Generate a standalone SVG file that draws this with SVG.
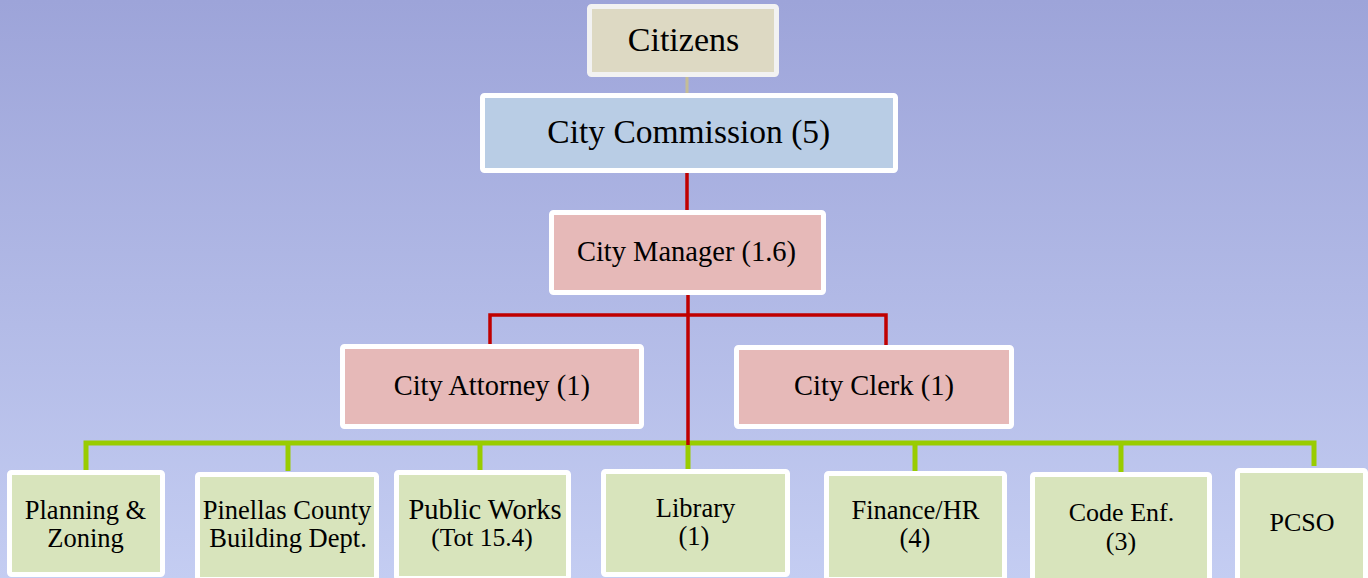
<svg xmlns="http://www.w3.org/2000/svg" width="1368" height="578" viewBox="0 0 1368 578">
<defs>
<linearGradient id="bg" x1="0" y1="0" x2="0" y2="1">
<stop offset="0" stop-color="#9DA4D9"/>
<stop offset="1" stop-color="#C4CDF2"/>
</linearGradient>
</defs>
<style>
.box{stroke:#FFFFFF;stroke-width:5}
.tan{fill:#DDD9C3;stroke:#F2F2F2}
.blue{fill:#B9CDE5}
.red{fill:#E6B9B8}
.grn{fill:#D8E4BC}
text{font-family:"Liberation Serif","Times New Roman",serif;fill:#000;text-anchor:middle}
.rl{stroke:#C00000;stroke-width:3.5;fill:none}
.gl{stroke:#99CC00;stroke-width:5;fill:none}
.tl{stroke:#C4BD97;stroke-width:3;fill:none}
</style>
<rect width="1368" height="578" fill="url(#bg)"/>
<g id="connectors">
<line class="tl" x1="687" y1="77" x2="687" y2="94"/>
<line class="rl" x1="687" y1="173" x2="687" y2="210"/>
<path class="gl" d="M86,470 V443 H1314 V466 M288,443 V471 M480,443 V470 M688,443 V470 M915,443 V472 M1121,443 V472"/>
<path class="rl" d="M688,295 V445 M490,346 V315 H886 V347"/>
</g>
<g id="citizens"><rect class="box tan" x="589.5" y="6.5" width="187" height="68" rx="2"/><text x="683.5" y="51" font-size="34">Citizens</text></g>
<g id="commission"><rect class="box blue" x="482.5" y="95.5" width="413" height="75" rx="2"/><text x="688.8" y="143" font-size="33.5">City Commission (5)</text></g>
<g id="manager"><rect class="box red" x="551.5" y="212.5" width="272" height="80" rx="2"/><text x="686.5" y="261" font-size="28.5">City Manager (1.6)</text></g>
<g id="attorney"><rect class="box red" x="342.5" y="346.5" width="299" height="80" rx="2"/><text x="491.8" y="395" font-size="28.5">City Attorney (1)</text></g>
<g id="clerk"><rect class="box red" x="736.5" y="347.5" width="275" height="79" rx="2"/><text x="874" y="395" font-size="28.5">City Clerk (1)</text></g>
<g id="planning"><rect class="box grn" x="9.5" y="472.5" width="153" height="102" rx="2"/><text x="85.5" y="519" font-size="26.5">Planning &amp;</text><text x="85.5" y="547" font-size="26.5">Zoning</text></g>
<g id="pinellas"><rect class="box grn" x="197.5" y="474.5" width="179" height="105" rx="2"/><text x="287" y="519" font-size="26.5">Pinellas County</text><text x="288" y="547" font-size="26.5">Building Dept.</text></g>
<g id="publicworks"><rect class="box grn" x="396.5" y="472.5" width="172" height="106" rx="2"/><text x="485" y="519" font-size="28.5">Public Works</text><text x="482" y="546" font-size="25.5">(Tot 15.4)</text></g>
<g id="library"><rect class="box grn" x="603.5" y="471.5" width="184" height="103" rx="2"/><text x="695.5" y="517" font-size="26.5">Library</text><text x="694" y="545" font-size="26.5">(1)</text></g>
<g id="finance"><rect class="box grn" x="826.5" y="473.5" width="178" height="106" rx="2"/><text x="915.5" y="519" font-size="26.5">Finance/HR</text><text x="915" y="547" font-size="26.5">(4)</text></g>
<g id="codeenf"><rect class="box grn" x="1032.5" y="474.5" width="177" height="106" rx="2"/><text x="1121.5" y="521" font-size="26">Code Enf.</text><text x="1121" y="550" font-size="26">(3)</text></g>
<g id="pcso"><rect class="box grn" x="1237.5" y="470.5" width="128" height="110" rx="2"/><text x="1302" y="531" font-size="26">PCSO</text></g>
</svg>
